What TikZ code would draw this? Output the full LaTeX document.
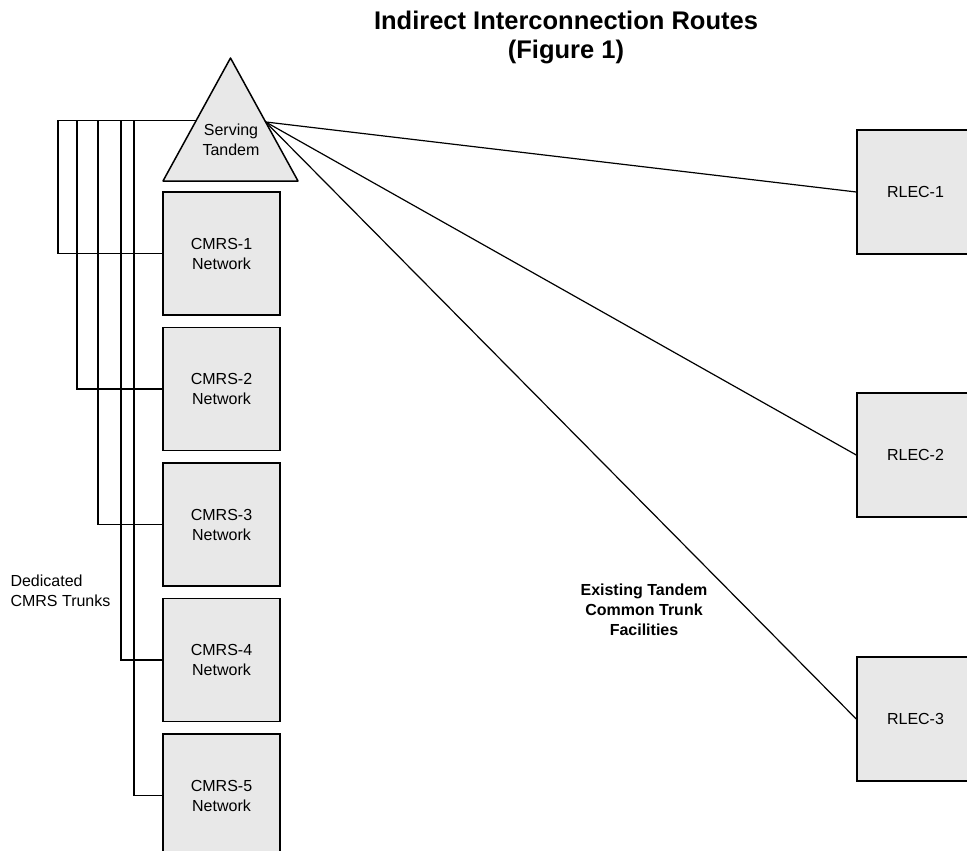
\documentclass[tikz,border=0pt]{standalone}
\usepackage{fontspec}
\setmainfont{Liberation Sans}
\usetikzlibrary{positioning, calc}

\begin{document}
\begin{tikzpicture}[
		x=1pt, y=-1pt,
		node distance=11pt,
		% Styles
		netbox/.style={rectangle, draw=black, line width=1.5pt, fill=black!9, minimum width=117pt, minimum height=123pt, inner sep=0pt, align=center, font=\fontsize{16}{20}\selectfont},
		rlecbox/.style={netbox, minimum height=124pt},
		note/.style={font=\fontsize{16}{20}\selectfont, align=left},
		boldnote/.style={font=\fontsize{16}{20}\selectfont\bfseries, align=center},
		trunk/.style={line width=1.2pt}
	]

	\useasboundingbox (0,0) rectangle (967,851);
	\clip (0,0) rectangle (967,851);

	% --- Title ---
	\node[font=\fontsize{25.5}{29}\selectfont\bfseries, align=center] (title) at (566,37) {Indirect Interconnection Routes\\(Figure 1)};

	% --- Serving tandem ---
	\coordinate (apex) at (230.5,58);
	\coordinate (base_left) at (163,181);
	\coordinate (base_right) at (298,181);
	\filldraw[fill=black!9, line width=1.5pt, line join=round] (apex) -- (base_left) -- (base_right) -- cycle;
	\node[note, align=center] (tandem) at (231,139.5) {Serving\\Tandem};
	\coordinate (bus) at ($(base_left)!0.49!(apex)$);
	\coordinate (fan) at ($(base_right)!0.48!(apex)$);

	% --- CMRS networks ---
	\node[netbox] (cmrs1) at (221.5,253.5) {CMRS-1\\Network};
	\node[netbox] (cmrs2) [below=11pt of cmrs1] {CMRS-2\\Network};
	\node[netbox] (cmrs3) [below=11pt of cmrs2] {CMRS-3\\Network};
	\node[netbox] (cmrs4) [below=11pt of cmrs3] {CMRS-4\\Network};
	\node[netbox] (cmrs5) [below=11pt of cmrs4] {CMRS-5\\Network};

	% --- Rural LECs ---
	\node[rlecbox] (rlec1) at (915.5,192) {RLEC-1};
	\node[rlecbox] (rlec2) at (915.5,455) {RLEC-2};
	\node[rlecbox] (rlec3) at (915.5,719) {RLEC-3};

	% --- Labels ---
	\node[note, anchor=west] (dedicated) at (7,591) {Dedicated\\CMRS Trunks};
	\node[boldnote] (common) at (644,610) {Existing Tandem\\Common Trunk\\Facilities};

	% --- TRUNKS ---
	% Dedicated trunks to each CMRS network
	\foreach \i/\off in {1/138,2/119,3/98,4/75,5/62}
		\draw[trunk] (bus) -- ++(-\off,0) |- (cmrs\i.west);

	% Common trunks to each RLEC
	\foreach \i in {1,2,3}
		\draw[trunk] (fan) -- (rlec\i.west);

\end{tikzpicture}
\end{document}
